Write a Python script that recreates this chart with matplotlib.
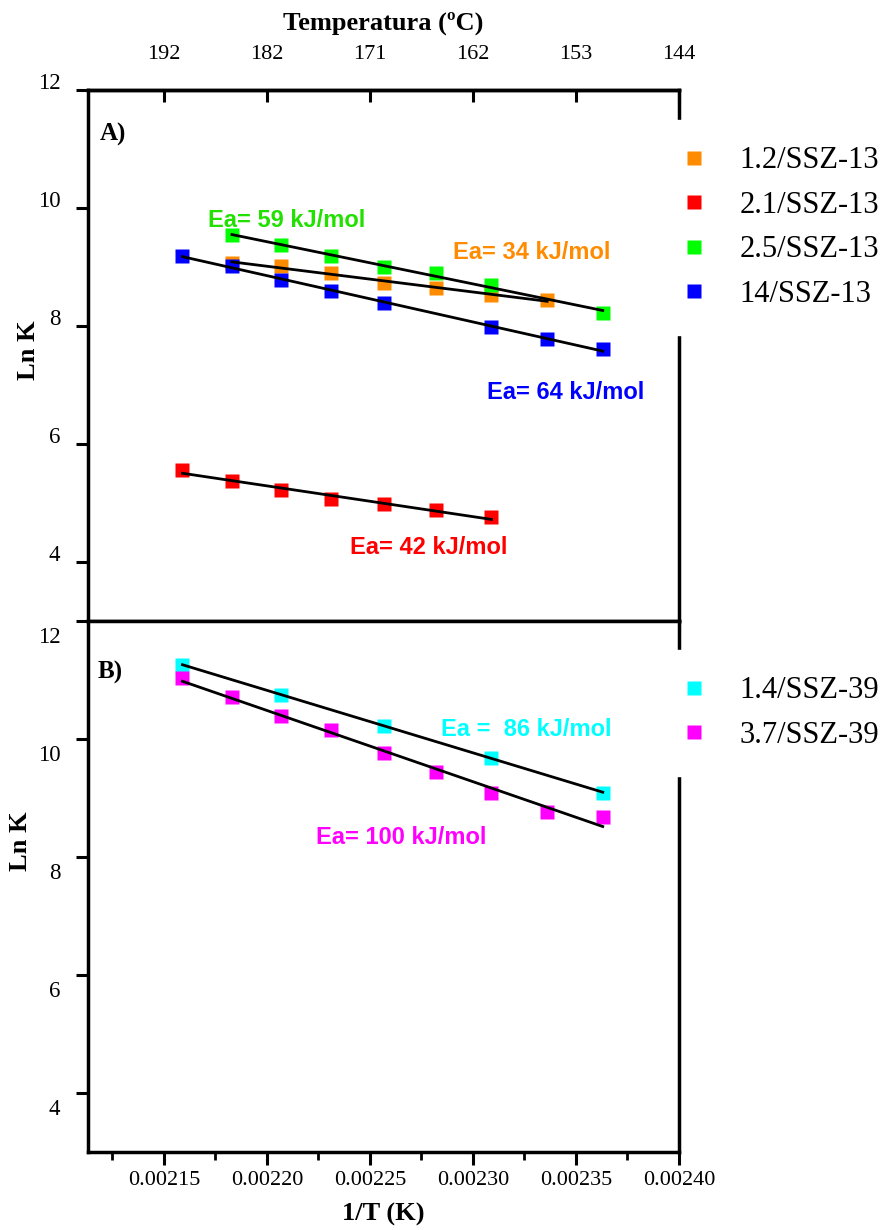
import numpy as np
import matplotlib
matplotlib.use("Agg")
import matplotlib.pyplot as plt
from matplotlib.ticker import MultipleLocator, NullLocator
from matplotlib.transforms import ScaledTranslation

# ---------------- data ----------------
# 1/T values (K^-1) of the measurement points
x_12 = [0.002183, 0.002207, 0.002231, 0.002257, 0.002282, 0.002309, 0.002336]
y_12 = [9.07, 9.01, 8.89, 8.73, 8.64, 8.52, 8.44]          # 1.2/SSZ-13

x_21 = [0.002159, 0.002183, 0.002207, 0.002231, 0.002257, 0.002282, 0.002309]
y_21 = [5.56, 5.36, 5.22, 5.07, 4.98, 4.87, 4.75]          # 2.1/SSZ-13

x_25 = [0.002183, 0.002207, 0.002231, 0.002257, 0.002282, 0.002309, 0.002363]
y_25 = [9.54, 9.37, 9.19, 8.99, 8.89, 8.70, 8.21]          # 2.5/SSZ-13

x_14 = [0.002159, 0.002183, 0.002207, 0.002231, 0.002257, 0.002309, 0.002336, 0.002363]
y_14 = [9.19, 9.01, 8.78, 8.59, 8.38, 7.98, 7.77, 7.61]    # 14/SSZ-13

x_39a = [0.002159, 0.002207, 0.002257, 0.002309, 0.002363]
y_39a = [11.25, 10.74, 10.22, 9.68, 9.08]                  # 1.4/SSZ-39

x_39b = [0.002159, 0.002183, 0.002207, 0.002231, 0.002257, 0.002282, 0.002309, 0.002336, 0.002363]
y_39b = [11.02, 10.70, 10.38, 10.14, 9.75, 9.43, 9.08, 8.76, 8.68]  # 3.7/SSZ-39

labels_A = ["1.2/SSZ-13", "2.1/SSZ-13", "2.5/SSZ-13", "14/SSZ-13"]
labels_B = ["1.4/SSZ-39", "3.7/SSZ-39"]
ea_A = ["Ea= 34 kJ/mol", "Ea= 42 kJ/mol", "Ea= 59 kJ/mol", "Ea= 64 kJ/mol"]
ea_B = ["Ea =  86 kJ/mol", "Ea= 100 kJ/mol"]

x_ticks = [0.00215, 0.00220, 0.00225, 0.00230, 0.00235, 0.00240]
x_ticklabels = ["0.00215", "0.00220", "0.00225", "0.00230", "0.00235", "0.00240"]
temp_ticklabels = ["192", "182", "171", "162", "153", "144"]
y_ticks = [4, 6, 8, 10, 12]
y_ticklabels = ["4", "6", "8", "10", "12"]

# ---------------- style ----------------
plt.rcParams["font.family"] = ["Liberation Serif", "DejaVu Serif"]
C_OR, C_RED, C_GR, C_BL = "#ff8c00", "#ff0000", "#00ff00", "#0000ff"
C_CY, C_MG = "#00ffff", "#ff00ff"
TXT_GR = "#22e000"

fig = plt.figure(figsize=(8.85, 12.3), dpi=100)
axA = fig.add_axes([0.0991, 0.4954, 0.6681, 0.4315])
axB = fig.add_axes([0.0991, 0.0637, 0.6681, 0.4317])

XLIM = (0.002113, 0.00240)
for ax in (axA, axB):
    ax.set_xlim(*XLIM)
    ax.set_ylim(3, 12)
    ax.set_yticks(y_ticks, y_ticklabels)
    ax.set_xticks(x_ticks)
    ax.xaxis.set_minor_locator(MultipleLocator(0.000025))
    ax.yaxis.set_minor_locator(NullLocator())
    ax.tick_params(axis="y", direction="out", length=8.6, width=2.2, pad=11, labelsize=16.5)
    ax.tick_params(axis="x", which="major", direction="out", length=9, width=2.2, labelsize=16, pad=5)
    ax.tick_params(axis="x", which="minor", direction="out", length=5.5, width=2.0)
    for s in ax.spines.values():
        s.set_linewidth(2.5)
axA.tick_params(axis="x", labelbottom=False)
axB.set_xticks(x_ticks, x_ticklabels)


def series(ax, x, y, color, label):
    ax.plot(x, y, "s", color=color, ms=10.5, mec="none", label=label, zorder=2)
    k, b = np.polyfit(x, y, 1)
    xx = np.array([min(x), max(x)])
    ax.plot(xx, k * xx + b, color="black", lw=2.0, zorder=3)


series(axA, x_12, y_12, C_OR, labels_A[0])
series(axA, x_21, y_21, C_RED, labels_A[1])
series(axA, x_25, y_25, C_GR, labels_A[2])
series(axA, x_14, y_14, C_BL, labels_A[3])
series(axB, x_39a, y_39a, C_CY, labels_B[0])
series(axB, x_39b, y_39b, C_MG, labels_B[1])

ea_kw = dict(fontsize=17, fontweight="bold", family="Liberation Sans", ha="left", va="center")
axA.text(0.0022903, 9.25, ea_A[0], color=C_OR, **ea_kw)
axA.text(0.0022403, 4.24, ea_A[1], color=C_RED, **ea_kw)
axA.text(0.0021714, 9.79, ea_A[2], color=TXT_GR, **ea_kw)
axA.text(0.0023068, 6.87, ea_A[3], color=C_BL, **ea_kw)
axB.text(0.0022845, 10.16, ea_B[0], color=C_CY, **ea_kw)
axB.text(0.0022238, 8.33, ea_B[1], color=C_MG, **ea_kw)

axA.text(0.002119, 11.25, "A)", fontsize=18, fontweight="bold", ha="left", va="center")
axB.text(0.002118, 11.13, "B)", fontsize=18, fontweight="bold", ha="left", va="center")

# axis labels
axA.set_ylabel("Ln K", fontsize=19, fontweight="bold")
axB.set_ylabel("Ln K", fontsize=19, fontweight="bold")
axA.yaxis.set_label_coords(-0.081, 0.51)
axB.yaxis.set_label_coords(-0.094, 0.585)
axB.set_xlabel("1/T (K)", fontsize=19, fontweight="bold", labelpad=9)

# top temperature axis
sec = axA.secondary_xaxis("top")
sec.set_xticks(x_ticks, temp_ticklabels)
sec.xaxis.set_minor_locator(NullLocator())
sec.tick_params(direction="in", length=8.6, width=2.2, pad=19, labelsize=16)
sec.spines["top"].set_linewidth(2.5)
sec.set_xlabel("Temperatura (ºC)", fontsize=19, fontweight="bold", labelpad=11)

# tick-label vertical offsets as in the reference
upA = ScaledTranslation(0, 9 / 100, fig.dpi_scale_trans)
downB = ScaledTranslation(0, -14 / 100, fig.dpi_scale_trans)
for lab in axA.get_yticklabels():
    lab.set_transform(lab.get_transform() + upA)
for lab in axB.get_yticklabels():
    lab.set_transform(lab.get_transform() + downB)

# legends (white box hides part of the right spine, like the reference)
leg_kw = dict(loc="upper left", bbox_transform=fig.transFigure, frameon=True,
              fancybox=False, framealpha=1, facecolor="white", edgecolor="white",
              prop={"family": "Liberation Serif", "size": 22}, borderpad=0.86,
              handlelength=0.9, handletextpad=1.05, labelspacing=0.51, borderaxespad=0)
legA = axA.legend(bbox_to_anchor=(654 / 885, 1 - 120 / 1230), **leg_kw)
legB = axB.legend(bbox_to_anchor=(654 / 885, 1 - 650 / 1230), **leg_kw)

fig.savefig("out.png", dpi=100)
